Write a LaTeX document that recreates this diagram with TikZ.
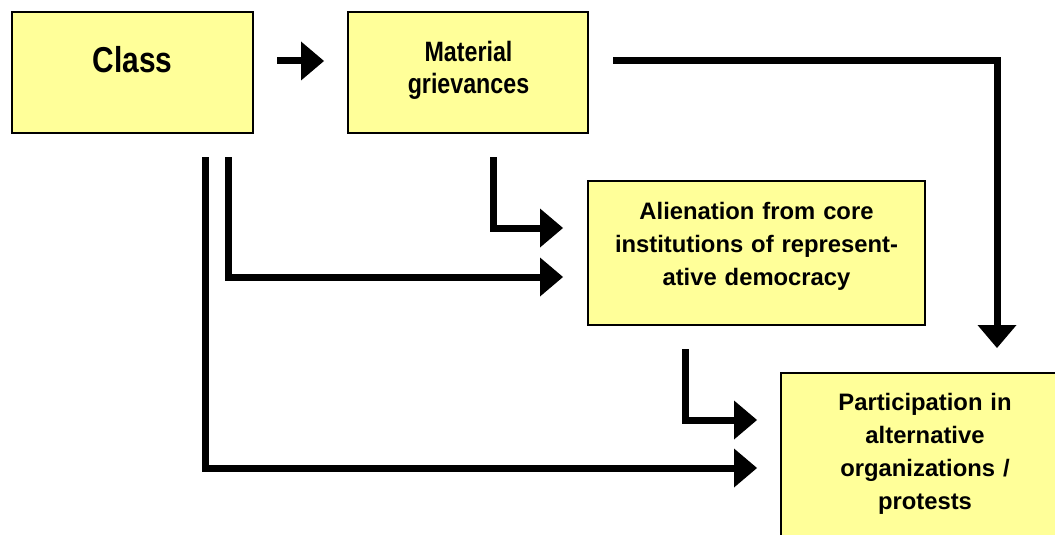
\documentclass[tikz,border=0pt]{standalone}
\usepackage{fontspec}
\setmainfont{Liberation Sans}
\newfontfamily\narrowfont{Liberation Sans}[FakeStretch=0.83]
\usetikzlibrary{arrows.meta}
\definecolor{boxyellow}{HTML}{FFFF99}
\tikzset{
  box/.style={draw=black, line width=1.5pt, fill=boxyellow, outer sep=0pt, inner sep=0pt},
  conn/.style={line width=7pt, line join=miter, -{Triangle[length=23pt,width=39pt,line width=0pt]}},
  lbl/.style={anchor=base, inner sep=0pt, align=center, font=\bfseries},
}
\begin{document}
\begin{tikzpicture}[x=1pt,y=-1pt]
\useasboundingbox (0,0) rectangle (1055,535);
\begin{scope}
\clip (0,0) rectangle (1055,535);
\node[box, minimum width=241pt, minimum height=121pt] (Class) at (132.5,72.5) {};
\node[box, minimum width=240pt, minimum height=121pt] (Material) at (468,72.5) {};
\node[box, minimum width=337pt, minimum height=144pt] (Alienation) at (756.5,253) {};
\node[box, minimum width=288pt, minimum height=190pt] (Participation) at (925,468) {};
\end{scope}

\node[lbl, font=\narrowfont\bfseries\fontsize{36}{40}\selectfont] (tClass) at (132.5,73) {Class};
\node[lbl, text width=230pt, font=\narrowfont\bfseries\fontsize{28}{32}\selectfont] (tMaterial) at (468.5,62) {Material\\grievances};
\node[lbl, text width=330pt, font=\bfseries\fontsize{23.8}{33}\selectfont] (tAlienation) at (756.5,219.5) {Alienation from core\\institutions of represent-\\ative democracy};
\node[lbl, text width=280pt, font=\bfseries\fontsize{23.8}{33}\selectfont] (tParticipation) at (925,410) {Participation in\\alternative\\organizations /\\protests};

\draw[conn] ([xshift=24pt,yshift=11.5pt]Class.east) -- ([xshift=-24pt,yshift=11.5pt]Material.west);
\draw[conn] ([xshift=25pt,yshift=11.5pt]Material.east) -| ([xshift=72pt,yshift=25pt]Participation.north);
\draw[conn] ([xshift=95.5pt,yshift=-24pt]Class.south) |- ([xshift=-25pt,yshift=-24pt]Alienation.west);
\draw[conn] ([xshift=25pt,yshift=-24pt]Material.south) |- ([xshift=-25pt,yshift=25pt]Alienation.west);
\draw[conn] ([xshift=-71.5pt,yshift=-24pt]Alienation.south) |- ([xshift=-24pt,yshift=48pt]Participation.west);
\draw[conn] ([xshift=72.5pt,yshift=-24pt]Class.south) |- ([xshift=-24pt]Participation.west);
\end{tikzpicture}
\end{document}
